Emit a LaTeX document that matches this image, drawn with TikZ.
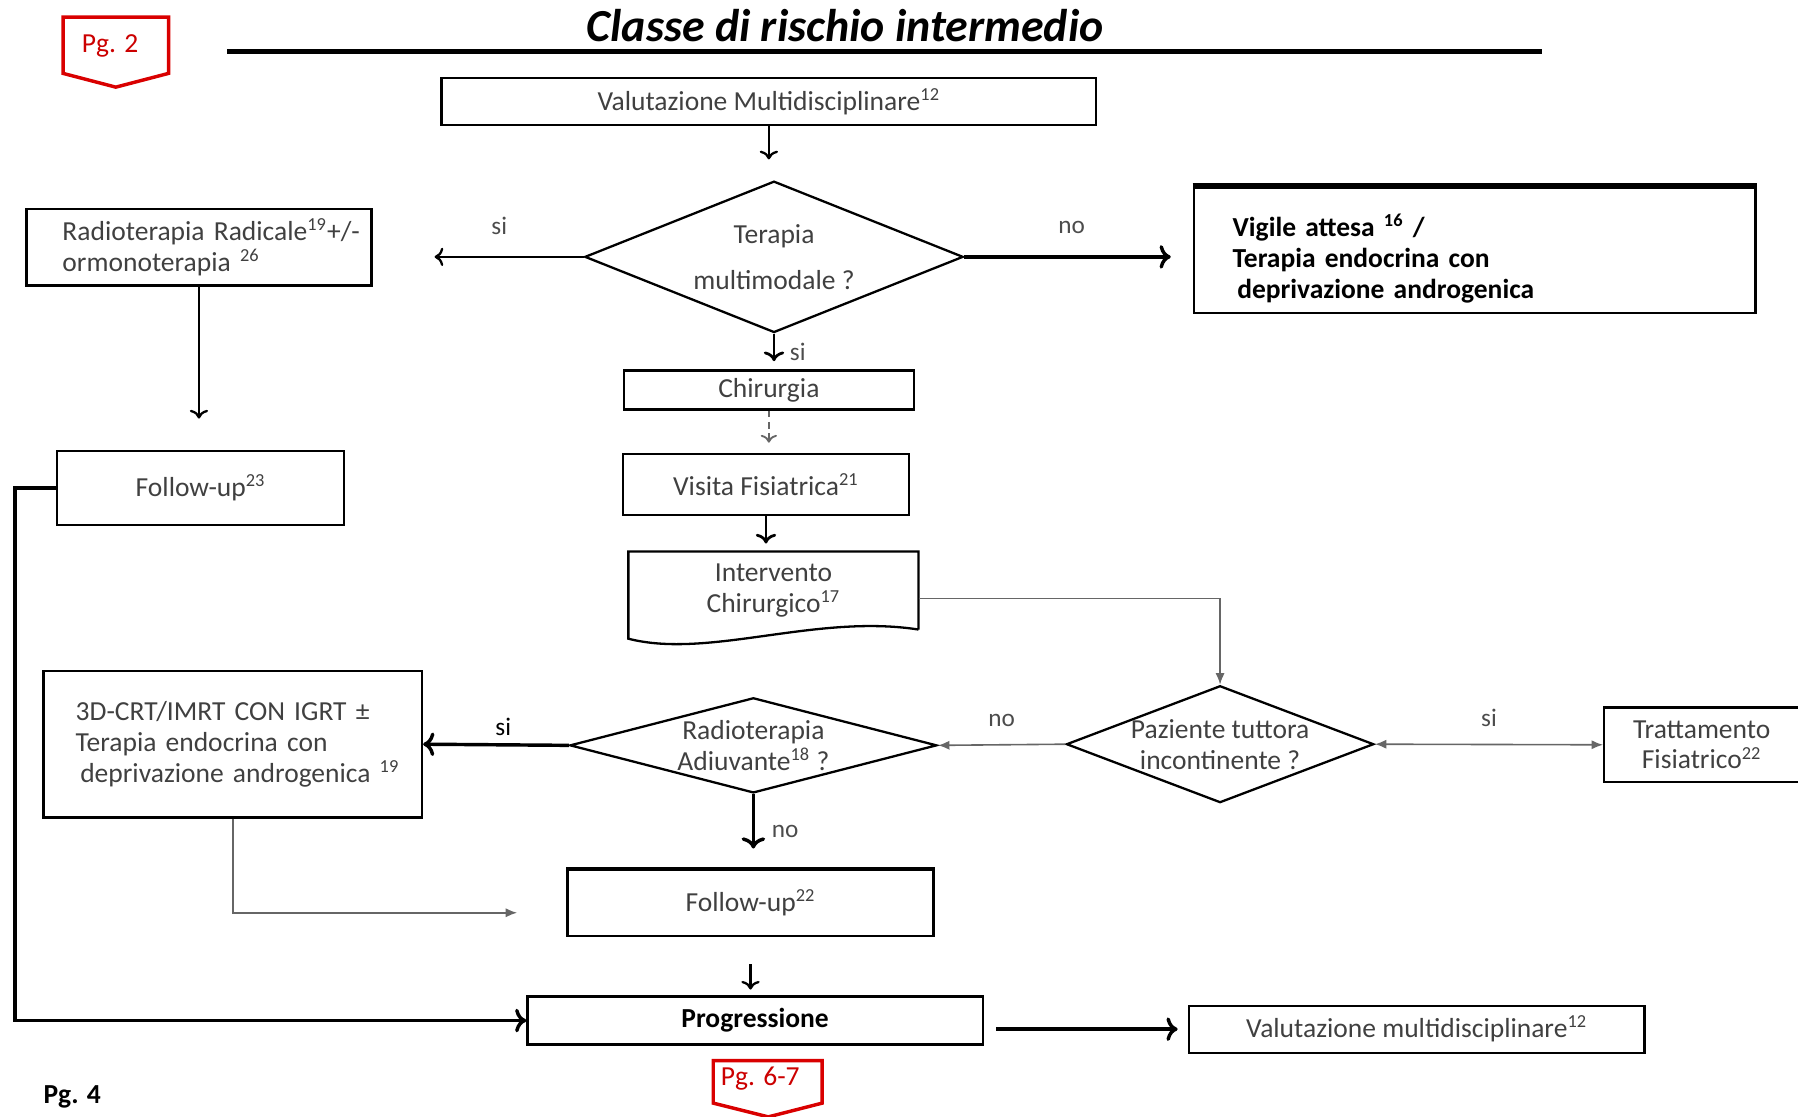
\documentclass[tikz,border=0pt]{standalone}
\usepackage{fontspec}
\setmainfont{Carlito}
\usepackage{tikz}
\usetikzlibrary{shapes.geometric, arrows.meta}

\begin{document}
\begin{tikzpicture}[x=0.5pt, y=-0.5pt,
	box/.style={draw, line width=1pt, inner sep=0pt, font=\fontsize{12}{13.5}\selectfont, text=black!75, align=center},
	choice/.style={diamond, draw, line width=1pt, inner sep=-2pt, font=\fontsize{12}{13.5}\selectfont, text=black!75, align=center},
	lbl/.style={font=\fontsize{11}{13}\selectfont, text=black!70},
	greyline/.style={draw=black!60, line width=0.7pt, >={Latex[length=5pt, width=4pt]}},
	pgmark/.style={draw=red!85!black, line width=1.5pt, fill=white}]
	\useasboundingbox (0,0) rectangle (1568,974);

	\node[font=\fontsize{20}{24}\selectfont\bfseries\itshape] (title) at (737,22) {Classe di rischio intermedio};
	\draw[line width=2pt] (198,45) -- (1345,45);

	\draw[pgmark] (55,15) -- (147,15) -- (147,64) -- (101,76) -- (55,64) -- cycle;
	\node[text=red!80!black, font=\fontsize{12}{14}\selectfont] (pgtwo) at (96,40) {Pg. 2};
	\draw[pgmark] (622,925) -- (717,925) -- (717,962) -- (670,974) -- (622,962) -- cycle;
	\node[text=red!80!black, font=\fontsize{12}{14}\selectfont] (pgsix) at (663,941) {Pg. 6-7};
	\node[font=\fontsize{12}{14}\selectfont\bfseries] (pgfour) at (63,957) {Pg. 4};

	\node[box, minimum width=285.5pt, minimum height=20.5pt] (valtop) at (670.5,88.5) {Valutazione Multidisciplinare\textsuperscript{12}};
	\node[choice, aspect=2.5, minimum width=165pt, minimum height=66pt] (terapia) at (675,224) {Terapia\\[6.5pt]multimodale ?};
	\node[box, align=left, text width=148pt, minimum width=150.5pt, minimum height=33.5pt] (radic) at (173.5,215.5) {\hspace*{14.5pt}Radioterapia Radicale\textsuperscript{19}+/-\\\hspace*{14.5pt}ormonoterapia \textsuperscript{26}};
	\node[box, align=left, text=black, font=\fontsize{12}{13.5}\selectfont\bfseries, text width=211pt, inner xsep=17pt, minimum height=55pt] (vigile) at (1286,218) {\rule{0pt}{17pt}Vigile attesa \textsuperscript{16} /\\Terapia endocrina con\\\hspace{2pt}deprivazione androgenica};
	\draw[line width=2.5pt] (vigile.north west) -- (vigile.north east);
	\node[box, minimum width=125pt, minimum height=32.5pt] (fu23) at (175,425.5) {Follow-up\textsuperscript{23}};
	\node[box, minimum width=126.5pt, minimum height=17pt] (chir) at (670.5,340) {Chirurgia};
	\node[box, minimum width=125pt, minimum height=26.5pt] (visita) at (668,422.5) {Visita Fisiatrica\textsuperscript{21}};
	\node[box, draw=none, minimum width=125.5pt, minimum height=33pt] (interv) at (674.5,515) {Intervento\\Chirurgico\textsuperscript{17}};
	\draw[line width=1pt] (interv.south east) -- (interv.north east) -- (interv.north west) -- ++(0,76) .. controls +(70,18) and +(-90,-14) .. (interv.south east);
	\node[choice, aspect=2.63, minimum width=134pt, minimum height=51pt] (paz) at (1064,649) {Paziente tuttora\\incontinente ?};
	\node[box, minimum width=85pt, minimum height=32.5pt] (tratt) at (1484,649.5) {Trattamento\\Fisiatrico\textsuperscript{22}};
	\node[choice, aspect=3.86, minimum width=160pt, minimum height=41.5pt] (adiuv) at (657,650) {Radioterapia\\Adiuvante\textsuperscript{18} ?};
	\node[box, align=left, text width=148pt, inner xsep=8.5pt, minimum height=64pt] (crt) at (203,649) {\hspace*{5.5pt}3D-CRT/IMRT CON IGRT \textpm\\\hspace*{5.5pt}Terapia endocrina con\\\hspace*{7.5pt}deprivazione androgenica \textsuperscript{19}};
	\node[box, minimum width=159.5pt, minimum height=28.5pt] (fu22) at (654.5,787.5) {Follow-up\textsuperscript{22}};
	\draw[line width=2pt] (fu22.north west) -- (fu22.north east);
	\node[box, text=black, font=\fontsize{12}{13.5}\selectfont\bfseries, minimum width=198.5pt, minimum height=21pt] (prog) at (658.5,890) {Progressione};
	\node[box, minimum width=198.5pt, minimum height=20.5pt] (valbot) at (1235.5,897.5) {Valutazione multidisciplinare\textsuperscript{12}};

	\draw[->, line width=1pt, shorten >=9pt] (valtop.south) -- (valtop.south |- terapia.north);
	\draw[->, line width=1pt, shorten >=27pt] (terapia.west) -- (terapia.west -| radic.east) node[lbl, pos=0.4, above=6pt] {si};
	\draw[->, line width=1.5pt, shorten >=9.5pt] (terapia.east) -- (terapia.east -| vigile.west) node[lbl, pos=0.47, above=6pt] {no};
	\draw[->, line width=1.2pt, shorten >=3.5pt] (terapia.south) -- (terapia.south |- chir.north) node[lbl, midway, right=3pt] {si};
	\draw[->, line width=1pt, shorten >=13.5pt] (radic.south) -- (radic.south |- fu23.north);
	\draw[->, line width=1.5pt] (fu23.west) -- ++(-36,0) |- (prog.west);
	\draw[->, densely dashed, black!60, line width=0.8pt, shorten >=4.5pt] (chir.south) -- (chir.south |- visita.north);
	\draw[->, line width=1.2pt, shorten >=3.5pt] (visita.south) -- (visita.south |- interv.north);
	\draw[greyline, ->] ([yshift=-3.5pt]interv.east) -| (paz.north);
	\draw[greyline, <->] (paz.east) -- (tratt.west) node[lbl, midway, above=4pt] {si};
	\draw[greyline, ->] (paz.west) -- (adiuv.east) node[lbl, midway, above=4pt] {no};
	\draw[->, line width=1.5pt] (adiuv.west) -- (crt.east) node[lbl, text=black, pos=0.45, above] {si};
	\draw[->, line width=1.5pt, shorten >=9pt] (adiuv.south) -- (adiuv.south |- fu22.north) node[lbl, midway, right=4pt] {no};
	\draw[greyline, ->, shorten >=21.5pt] (crt.south) |- ([yshift=-4.25pt]fu22.west);
	\draw[->, line width=1pt, shorten <=12pt, shorten >=2.5pt] (fu22.south) -- (fu22.south |- prog.north);
	\draw[->, line width=1.5pt, shorten <=5.5pt, shorten >=4.5pt] (prog.east |- valbot.west) -- (valbot.west);
\end{tikzpicture}
\end{document}
